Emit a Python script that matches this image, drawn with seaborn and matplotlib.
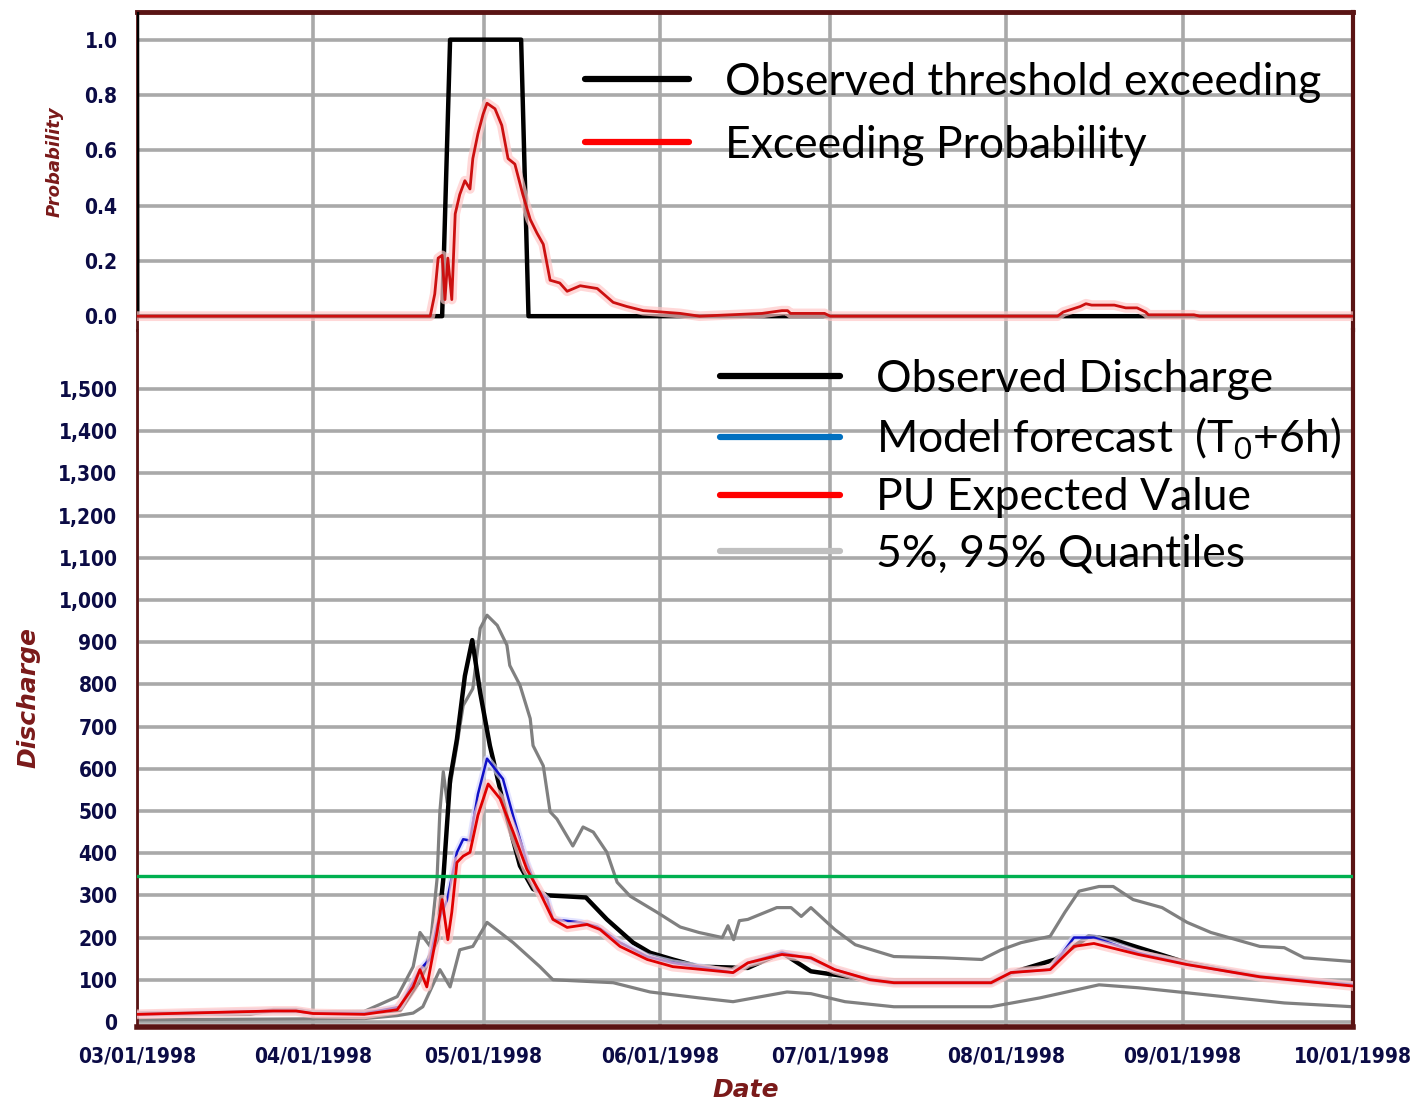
import numpy as np
import pandas as pd
import matplotlib
matplotlib.use("Agg")
import matplotlib.pyplot as plt
import matplotlib.dates as mdates
from matplotlib.lines import Line2D
from matplotlib.ticker import FixedLocator, FuncFormatter
import seaborn as sns

# ---------------- data (days since 1998-03-01) ----------------
start = pd.Timestamp("1998-03-01")
end = pd.Timestamp("1998-10-01")
threshold = 345

exceed_days = [0, 0.05, 53.7, 55.1, 67.6, 68.9, 214]
exceed_vals = [1.1, 0.0, 0.0, 1.0, 1.0, 0.0, 0.0]

prob_days = [0, 51.6, 52.4, 53.0, 53.7, 54.2, 54.7, 55.4, 56.0, 56.8, 57.7, 58.6, 59.1,
             60.0, 60.9, 61.6, 63.0, 64.2, 65.3, 66.5, 67.9, 69.2, 70.4, 71.5, 72.7,
             74.4, 75.7, 78.0, 81.0, 83.8, 86.2, 89.1, 95.6, 99.0, 110, 113.5, 114.5,
             115, 121, 122, 162, 163, 164.5, 166, 167, 168, 172, 174, 176, 177.5, 178,
             186, 187, 214]
prob_vals = [0, 0, 0.08, 0.21, 0.22, 0.06, 0.21, 0.06, 0.37, 0.44, 0.49, 0.46, 0.57,
             0.66, 0.73, 0.77, 0.75, 0.69, 0.57, 0.55, 0.44, 0.35, 0.30, 0.26, 0.13,
             0.12, 0.09, 0.11, 0.10, 0.05, 0.035, 0.02, 0.01, 0.0, 0.01, 0.02, 0.02,
             0.01, 0.01, 0.0, 0.0, 0.015, 0.025, 0.035, 0.045, 0.04, 0.04, 0.03, 0.03,
             0.015, 0.005, 0.005, 0.0, 0.0]

obs_days = [0, 10, 20, 24, 28, 31, 40, 43, 46.3, 49.8, 52.8, 53.9, 55.1, 56.3, 57.7,
            59.0, 60.4, 62.1, 64.8, 67.4, 69.7, 72.2, 79.0, 82.7, 87.3, 90.3, 94.3,
            98.9, 107.5, 113.5, 118.6, 126.4, 133.2, 150.3, 154.7, 161.6, 167.5, 171.8,
            184.8, 197.6, 214]
obs_vals = [20, 20, 20, 28, 28, 22, 22, 25, 29, 100, 195, 338, 575, 670, 820,
            905, 780, 655, 500, 370, 315, 300, 295, 243, 188, 164, 148,
            131, 128, 164, 120, 105, 93, 93, 120, 148, 203, 195,
            140, 107, 88]

model_days = [0, 24, 28, 31, 40, 46.3, 49.8, 51.6, 52.8, 54.6, 56.3, 57.4, 58.6, 60.0,
              61.6, 63.0, 64.4, 66.2, 68.6, 70.4, 72.2, 73.2, 78.0, 81.0, 85.0, 89.8,
              94.3, 98.9, 104.9, 107.5, 113.5, 118.6, 122.8, 129.0, 133.2, 150.3,
              153.8, 160.7, 164.9, 168.4, 176.2, 184.8, 197.6, 214]
model_vals = [18, 26, 26, 20, 20, 36, 124, 150, 230, 290, 402, 433, 430, 540,
              624, 600, 576, 488, 378, 314, 290, 243, 236, 226, 188, 155,
              140, 131, 117, 140, 164, 150, 124, 100, 93, 93,
              117, 124, 200, 200, 164, 136, 107, 88]

pu_days = [0, 24, 28, 31, 40, 45.8, 48.6, 49.8, 51.0, 52.8, 53.7, 54.7, 55.4, 56.3,
           57.4, 58.6, 60.0, 61.8, 63.9, 66.2, 68.6, 70.9, 73.2, 75.7, 79.2, 81.5,
           85.0, 89.8, 94.3, 98.9, 104.9, 107.5, 113.5, 118.6, 122.8, 129.0, 133.2,
           150.3, 153.8, 160.7, 164.9, 168.4, 176.2, 184.8, 197.6, 214]
pu_vals = [18, 26, 26, 20, 18, 29, 83, 124, 83, 212, 290, 195, 260, 378,
           393, 402, 490, 564, 529, 450, 362, 307, 243, 224, 231, 219,
           179, 148, 131, 125, 117, 140, 160, 152, 124, 100, 93,
           93, 117, 124, 179, 186, 160, 136, 107, 85]

q95_days = [0, 40, 45.8, 48.6, 49.8, 51.6, 52.8, 53.3, 53.9, 54.6, 56.3, 57.4, 59.1,
            60.4, 61.6, 63.4, 65.1, 65.6, 67.4, 69.2, 69.7, 71.5, 72.7, 73.9, 76.7,
            78.5, 80.3, 82.7, 84.5, 86.8, 91.5, 95.6, 98.9, 103.0, 104.0, 105.0,
            106.0, 107.5, 112.6, 115.1, 116.9, 118.6, 122.8, 126.4, 133.2, 141.9,
            148.7, 152.1, 155.6, 160.7, 163.3, 165.8, 169.3, 171.8, 175.3, 180.4,
            184.8, 189.0, 197.6, 201.9, 205.4, 214]
q95_vals = [22, 25, 60, 131, 212, 179, 338, 498, 593, 520, 655, 750, 790,
            933, 964, 940, 893, 845, 798, 719, 655, 607, 498, 481, 417,
            462, 450, 402, 331, 298, 260, 225, 212, 200, 228, 195,
            240, 243, 271, 271, 250, 271, 219, 183, 155, 152,
            148, 171, 188, 203, 260, 310, 321, 321, 290, 271,
            236, 212, 179, 176, 152, 143]

q05_days = [0, 40, 45.8, 48.6, 50.3, 53.3, 55.1, 56.8, 59.1, 61.6, 63.9, 66.2, 70.9,
            73.2, 83.8, 90.3, 98.9, 104.9, 114.4, 118.6, 124.6, 133.2, 150.3, 158.9,
            169.3, 176.2, 184.8, 201.9, 214]
q05_vals = [5, 8, 15, 21, 36, 124, 83, 171, 179, 236, 212, 188, 131,
            100, 93, 71, 57, 48, 71, 67, 48, 36, 36, 57,
            88, 81, 69, 45, 36]

month_labels = ["03/01/1998", "04/01/1998", "05/01/1998", "06/01/1998",
                "07/01/1998", "08/01/1998", "09/01/1998", "10/01/1998"]


def to_dates(days):
    return start + pd.to_timedelta(np.asarray(days, dtype=float), unit="D")


# ---------------- style ----------------
sns.set_theme(style="white")
plt.rcParams["font.family"] = ["DejaVu Sans"]
plt.rcParams["mathtext.fontset"] = "custom"
plt.rcParams["mathtext.rm"] = "Lato"

W, H = 1412, 1105
fig = plt.figure(figsize=(W / 100, H / 100), dpi=100)
L, R = 137 / W, 1353 / W
ax_top = fig.add_axes([L, 1 - 330 / H, R - L, (330 - 12) / H])
ax_bot = fig.add_axes([L, 1 - 1027 / H, R - L, (1027 - 330) / H])

grid_c = "#a9a9a9"
tick_c = "#0b0b45"
frame_c = "#5a1414"
label_c = "#7a1a1a"

month_starts = pd.date_range(start, end, freq="MS")
mnum = mdates.date2num(month_starts)
minor = []
for a, b in zip(mnum[:-1], mnum[1:]):
    for k in (1, 2, 3):
        minor.append(a + k * (b - a) / 4)

for ax in (ax_top, ax_bot):
    ax.set_xlim(start, end)
    ax.xaxis.set_major_locator(FixedLocator(mnum))
    ax.xaxis.set_minor_locator(FixedLocator(minor))
    ax.grid(True, which="major", color=grid_c, lw=2.6, zorder=0)
    ax.set_axisbelow(True)
    ax.tick_params(axis="both", which="major", color=grid_c, width=2.5, length=9,
                   labelcolor=tick_c, labelsize=15, pad=5)
    ax.tick_params(axis="both", which="minor", color=grid_c, width=2, length=5)
    ax.set_facecolor("white")

# ----- top panel -----
ax_top.set_ylim(-0.05, 1.10)
ax_top.set_yticks(np.arange(0, 1.01, 0.2))
ax_top.yaxis.set_minor_locator(FixedLocator(np.arange(0, 1.1, 0.04)))
ax_top.yaxis.set_major_formatter(FuncFormatter(lambda v, p: f"{v:.1f}"))
ax_top.tick_params(axis="x", which="both", bottom=False, labelbottom=False)

sns.lineplot(x=to_dates(exceed_days), y=exceed_vals, ax=ax_top, color="black",
             lw=3.2, estimator=None, sort=False, zorder=3)
sns.lineplot(x=to_dates(prob_days), y=prob_vals, ax=ax_top, color="#ffc8c8",
             lw=7, alpha=0.7, estimator=None, sort=False, zorder=4)
sns.lineplot(x=to_dates(prob_days), y=prob_vals, ax=ax_top, color="#cc1010",
             lw=2.0, estimator=None, sort=False, zorder=5)

# ----- bottom panel -----
ax_bot.set_ylim(-12, 1640)
ax_bot.set_yticks(np.arange(0, 1501, 100))
ax_bot.yaxis.set_minor_locator(FixedLocator(np.arange(0, 1601, 20)))
ax_bot.yaxis.set_major_formatter(FuncFormatter(lambda v, p: "0" if v == 0 else f"{int(v):,}"))
ax_bot.xaxis.set_major_formatter(FuncFormatter(
    lambda v, p: month_labels[int(np.argmin(np.abs(mnum - v)))]))

sns.lineplot(x=to_dates(q95_days), y=q95_vals, ax=ax_bot, color="#808080",
             lw=2.3, estimator=None, sort=False, zorder=2)
sns.lineplot(x=to_dates(q05_days), y=q05_vals, ax=ax_bot, color="#808080",
             lw=2.3, estimator=None, sort=False, zorder=2)
sns.lineplot(x=to_dates(obs_days), y=obs_vals, ax=ax_bot, color="black",
             lw=3.2, estimator=None, sort=False, zorder=3)
sns.lineplot(x=to_dates(model_days), y=model_vals, ax=ax_bot, color="#d8d8ff",
             lw=5, alpha=0.7, estimator=None, sort=False, zorder=3.5)
sns.lineplot(x=to_dates(model_days), y=model_vals, ax=ax_bot, color="#1010c8",
             lw=1.8, estimator=None, sort=False, zorder=4)
sns.lineplot(x=to_dates(pu_days), y=pu_vals, ax=ax_bot, color="#ffc8c8",
             lw=7, alpha=0.7, estimator=None, sort=False, zorder=4.5)
sns.lineplot(x=to_dates(pu_days), y=pu_vals, ax=ax_bot, color="#e00000",
             lw=2.0, estimator=None, sort=False, zorder=5)
ax_bot.axhline(threshold, color="#00b050", lw=2.4, zorder=6)

# tick label fonts
for ax in (ax_top, ax_bot):
    for lab in ax.get_yticklabels() + ax.get_xticklabels():
        lab.set_fontfamily("DejaVu Sans")
        lab.set_fontweight("bold")
        lab.set_fontstretch("condensed")
        lab.set_fontsize(15)
        lab.set_color(tick_c)

# spines
for ax in (ax_top, ax_bot):
    for s in ax.spines.values():
        s.set_color(frame_c)
    ax.spines["left"].set_linewidth(2.0)
    ax.spines["right"].set_linewidth(3.0)
ax_top.spines["bottom"].set_visible(False)
ax_bot.spines["top"].set_visible(False)
ax_top.spines["top"].set_linewidth(3.5)
ax_bot.spines["bottom"].set_linewidth(4.0)

# axis labels
ax_top.set_ylabel("")
ax_bot.set_ylabel("")
ax_bot.set_xlabel("")
fig.text(55 / W, 1 - 162 / H, "Probability", rotation=90, ha="center", va="center",
         color=label_c, fontsize=13, fontweight="bold", fontstyle="italic")
fig.text(28 / W, 1 - 697 / H, "Discharge", rotation=90, ha="center", va="center",
         color=label_c, fontsize=18, fontweight="bold", fontstyle="italic")
fig.text(746 / W, 1 - 1090 / H, "Date", ha="center", va="center",
         color=label_c, fontsize=18, fontweight="bold", fontstyle="italic")

# legends
leg_font = {"family": "Lato", "size": 32}
h_top = [Line2D([], [], color="black", lw=4.5), Line2D([], [], color="#ff0000", lw=4.5)]
leg1 = ax_top.legend(h_top, ["Observed threshold exceeding", "Exceeding Probability"],
                     loc="upper left", bbox_to_anchor=(585 / W, 1 - 62 / H),
                     bbox_transform=fig.transFigure, frameon=False, prop=leg_font,
                     handlelength=2.35, handletextpad=0.8, labelspacing=0.49,
                     borderpad=0, borderaxespad=0)
h_bot = [Line2D([], [], color="black", lw=4.5), Line2D([], [], color="#0070c0", lw=4.5),
         Line2D([], [], color="#ff0000", lw=4.5), Line2D([], [], color="#c0c0c0", lw=4.5)]
leg2 = ax_bot.legend(h_bot, ["Observed Discharge", r"Model forecast  (T$_\mathregular{0}$+6h)",
                             "PU Expected Value", "5%, 95% Quantiles"],
                     loc="upper left", bbox_to_anchor=(720 / W, 1 - 359 / H),
                     bbox_transform=fig.transFigure, frameon=False, prop=leg_font,
                     handlelength=2.7, handletextpad=0.8, labelspacing=0.35,
                     borderpad=0, borderaxespad=0)
for leg in (leg1, leg2):
    for t in leg.get_texts():
        t.set_color("black")

fig.savefig("out.png", dpi=100)
